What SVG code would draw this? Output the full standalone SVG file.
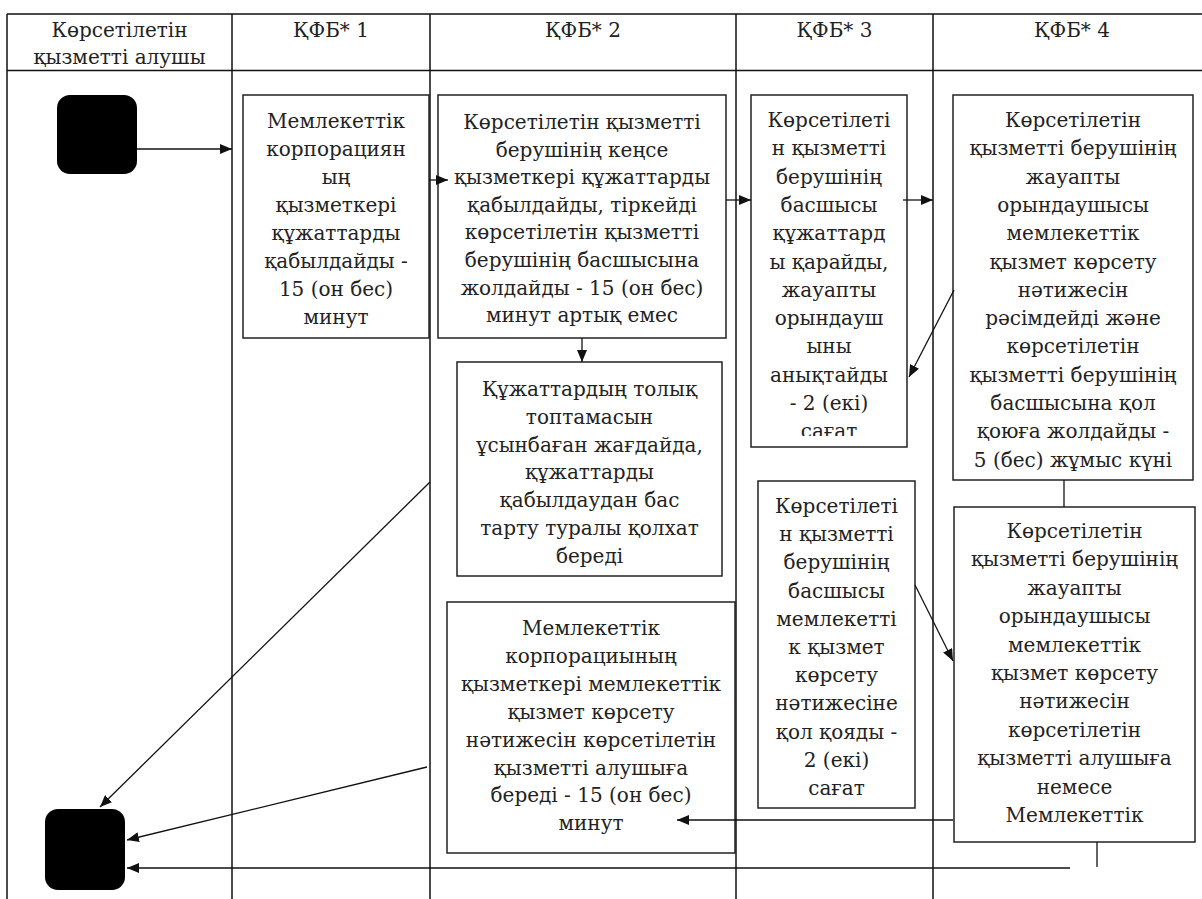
<svg xmlns="http://www.w3.org/2000/svg" width="1202" height="899" viewBox="0 0 1202 899">
<style>
.grid{stroke:#111;stroke-width:1.5;fill:none}
.box{fill:#fff;stroke:#222;stroke-width:1.5}
.term{fill:#000}
.t{font-family:'DejaVu Serif','Liberation Serif',serif;font-size:20px;fill:#222;text-anchor:middle}
.c{stroke:#111;stroke-width:1.3;fill:none}
.a{marker-end:url(#ah)}
</style>
<defs>
<marker id="ah" markerWidth="12" markerHeight="10" refX="12" refY="5" orient="auto" markerUnits="userSpaceOnUse">
<path d="M0,0 L12,5 L0,10 Z" fill="#111"/>
</marker>
<clipPath id="clip4"><rect x="751" y="95" width="156" height="341"/></clipPath>
</defs>
<rect width="1202" height="899" fill="#fff"/>
<g id="table">
<path class="grid" d="M7,14 H1202 M7,70.5 H1202 M7,14 V899 M232,14 V899 M430,14 V899 M736,14 V899 M933,14 V899"/>
<text class="t" x="119.5" y="37">Көрсетілетін</text>
<text class="t" x="119.5" y="64">қызметті алушы</text>
<text class="t" x="331" y="37">ҚФБ* 1</text>
<text class="t" x="583" y="37">ҚФБ* 2</text>
<text class="t" x="834.5" y="37">ҚФБ* 3</text>
<text class="t" x="1072" y="37">ҚФБ* 4</text>
</g>
<g id="start"><rect class="term" x="57" y="95" width="80" height="79" rx="13"/></g>
<g id="end"><rect class="term" x="45" y="809" width="80" height="81" rx="13"/></g>
<g id="box1">
<rect class="box" x="243" y="95" width="186" height="243"/>
<text class="t" x="336"><tspan x="336" y="128">Мемлекеттік</tspan><tspan x="336" y="156">корпорациян</tspan><tspan x="336" y="184">ың</tspan><tspan x="336" y="212">қызметкері</tspan><tspan x="336" y="240">құжаттарды</tspan><tspan x="336" y="268">қабылдайды -</tspan><tspan x="336" y="296">15 (он бес)</tspan><tspan x="336" y="324">минут</tspan></text>
</g>
<g id="box2">
<rect class="box" x="438" y="95" width="288" height="243"/>
<text class="t" x="582"><tspan x="582" y="129">Көрсетілетін қызметті</tspan><tspan x="582" y="156.6">берушінің кеңсе</tspan><tspan x="582" y="184.2">қызметкері құжаттарды</tspan><tspan x="582" y="211.8">қабылдайды, тіркейді</tspan><tspan x="582" y="239.4">көрсетілетін қызметті</tspan><tspan x="582" y="267">берушінің басшысына</tspan><tspan x="582" y="294.6">жолдайды - 15 (он бес)</tspan><tspan x="582" y="322.2">минут артық емес</tspan></text>
</g>
<g id="box3">
<rect class="box" x="457" y="362" width="265" height="214"/>
<text class="t" x="589.5"><tspan x="589.5" y="396">Құжаттардың толық</tspan><tspan x="589.5" y="423.8">топтамасын</tspan><tspan x="589.5" y="451.6">ұсынбаған жағдайда,</tspan><tspan x="589.5" y="479.4">құжаттарды</tspan><tspan x="589.5" y="507.2">қабылдаудан бас</tspan><tspan x="589.5" y="535">тарту туралы қолхат</tspan><tspan x="589.5" y="562.8">береді</tspan></text>
</g>
<g id="box4">
<rect class="box" x="751" y="95" width="156" height="352"/>
<text class="t" x="829" clip-path="url(#clip4)"><tspan x="829" y="127">Көрсетілеті</tspan><tspan x="829" y="155.3">н қызметті</tspan><tspan x="829" y="183.6">берушінің</tspan><tspan x="829" y="211.9">басшысы</tspan><tspan x="829" y="240.2">құжаттард</tspan><tspan x="829" y="268.5">ы қарайды,</tspan><tspan x="829" y="296.8">жауапты</tspan><tspan x="829" y="325.1">орындауш</tspan><tspan x="829" y="353.4">ыны</tspan><tspan x="829" y="381.7">анықтайды</tspan><tspan x="829" y="410">- 2 (екі)</tspan><tspan x="829" y="438.3">сағат</tspan></text>
</g>
<g id="box5">
<rect class="box" x="953" y="95" width="240" height="385"/>
<text class="t" x="1073"><tspan x="1073" y="127">Көрсетілетін</tspan><tspan x="1073" y="155.3">қызметті берушінің</tspan><tspan x="1073" y="183.6">жауапты</tspan><tspan x="1073" y="211.9">орындаушысы</tspan><tspan x="1073" y="240.2">мемлекеттік</tspan><tspan x="1073" y="268.5">қызмет көрсету</tspan><tspan x="1073" y="296.8">нәтижесін</tspan><tspan x="1073" y="325.1">рәсімдейді және</tspan><tspan x="1073" y="353.4">көрсетілетін</tspan><tspan x="1073" y="381.7">қызметті берушінің</tspan><tspan x="1073" y="410">басшысына қол</tspan><tspan x="1073" y="438.3">қоюға жолдайды -</tspan><tspan x="1073" y="466.6">5 (бес) жұмыс күні</tspan></text>
</g>
<g id="box6">
<rect class="box" x="954" y="507" width="241" height="335"/>
<text class="t" x="1074.5"><tspan x="1074.5" y="538">Көрсетілетін</tspan><tspan x="1074.5" y="566.4">қызметті берушінің</tspan><tspan x="1074.5" y="594.8">жауапты</tspan><tspan x="1074.5" y="623.2">орындаушысы</tspan><tspan x="1074.5" y="651.6">мемлекеттік</tspan><tspan x="1074.5" y="680">қызмет көрсету</tspan><tspan x="1074.5" y="708.4">нәтижесін</tspan><tspan x="1074.5" y="736.8">көрсетілетін</tspan><tspan x="1074.5" y="765.2">қызметті алушыға</tspan><tspan x="1074.5" y="793.6">немесе</tspan><tspan x="1074.5" y="822">Мемлекеттік</tspan></text>
</g>
<g id="box7">
<rect class="box" x="758" y="481" width="157" height="327"/>
<text class="t" x="836.5"><tspan x="836.5" y="513">Көрсетілеті</tspan><tspan x="836.5" y="541.2">н қызметті</tspan><tspan x="836.5" y="569.4">берушінің</tspan><tspan x="836.5" y="597.6">басшысы</tspan><tspan x="836.5" y="625.8">мемлекетті</tspan><tspan x="836.5" y="654">к қызмет</tspan><tspan x="836.5" y="682.2">көрсету</tspan><tspan x="836.5" y="710.4">нәтижесіне</tspan><tspan x="836.5" y="738.6">қол қояды -</tspan><tspan x="836.5" y="766.8">2 (екі)</tspan><tspan x="836.5" y="795">сағат</tspan></text>
</g>
<g id="box8">
<rect class="box" x="447" y="602" width="288" height="251"/>
<text class="t" x="591"><tspan x="591" y="635">Мемлекеттік</tspan><tspan x="591" y="662.9">корпорациының</tspan><tspan x="591" y="690.8">қызметкері мемлекеттік</tspan><tspan x="591" y="718.7">қызмет көрсету</tspan><tspan x="591" y="746.6">нәтижесін көрсетілетін</tspan><tspan x="591" y="774.5">қызметті алушыға</tspan><tspan x="591" y="802.4">береді - 15 (он бес)</tspan><tspan x="591" y="830.3">минут</tspan></text>
</g>
<g id="connectors">
<path class="c a" d="M137,149 H232"/>
<path class="c a" d="M429,180 H448"/>
<path class="c a" d="M582,338 V362"/>
<path class="c a" d="M726,200 H751"/>
<path class="c a" d="M903,200 H933"/>
<path class="c a" d="M954,290 L909,377"/>
<path class="c" d="M1064,480 V507"/>
<path class="c a" d="M915,585 L953,661"/>
<path class="c a" d="M953,820 H677"/>
<path class="c" d="M1097,842 V867"/>
<path class="c a" d="M1070,868 H127"/>
<path class="c a" d="M430,482 L100,807"/>
<path class="c a" d="M427,767 L127,840"/>
</g>
</svg>
